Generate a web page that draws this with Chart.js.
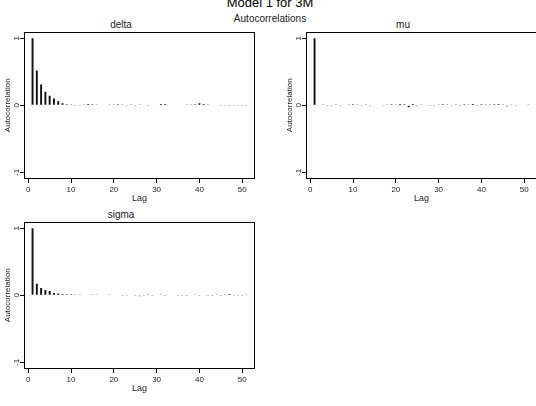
<!DOCTYPE html>
<html>
<head>
<meta charset="utf-8">
<script src="https://cdn.jsdelivr.net/npm/chart.js@4"></script>
<style>
  html, body { margin: 0; padding: 0; background: #fff; overflow: hidden; width: 536px; height: 406px; }
  body { position: relative; font-family: "Liberation Sans", Arial, sans-serif; color: #222; }
  .lbl { position: absolute; white-space: nowrap; transform: translate(-50%, -50%); line-height: 1; }
  .panel { position: absolute; width: 270px; height: 205px; }
</style>
</head>
<body>
<div class="lbl" style="left:270px; top:1.5px; font-size:13px; color:#000;">Model 1 for 3M</div>
<div class="lbl" style="left:270px; top:19px; font-size:10px;">Autocorrelations</div>
<div class="lbl" style="left:121px; top:25px; font-size:10px;">delta</div>
<div class="lbl" style="left:403px; top:25px; font-size:10px;">mu</div>
<div class="lbl" style="left:121px; top:215px; font-size:10px;">sigma</div>

<canvas id="c-delta" class="panel" width="270" height="205" style="left:0; top:0;"></canvas>
<canvas id="c-mu" class="panel" width="270" height="205" style="left:282px; top:0;"></canvas>
<canvas id="c-sigma" class="panel" width="270" height="205" style="left:0; top:190px;"></canvas>

<script>
// Lags
const lags = [1, 2, 3, 4, 5, 6, 7, 8, 9, 10, 11, 12, 13, 14, 15, 16, 17, 18, 19, 20,
    21, 22, 23, 24, 25, 26, 27, 28, 29, 30, 31, 32, 33, 34, 35, 36, 37, 38, 39, 40,
    41, 42, 43, 44, 45, 46, 47, 48, 49, 50, 51];

// Autocorrelations
const deltaAcf = [1.0, 0.52, 0.31, 0.20, 0.14, 0.10, 0.06, 0.03, 0.015, 0.005,
    -0.005, -0.01, 0.01, 0.02, 0.015, 0.01, 0.0, 0.0, 0.01, 0.01,
    0.015, 0.01, -0.005, 0.01, -0.01, 0.005, 0.0, -0.01, 0.0, 0.0,
    0.02, 0.02, 0.0, 0.0, 0.0, 0.0, 0.005, 0.01, 0.015, 0.03,
    0.02, 0.01, 0.0, 0.0, -0.01, -0.01, -0.01, -0.01, -0.01, -0.005, -0.01];

const muAcf = [1.0, 0.0, 0.01, -0.01, -0.01, 0.005, -0.01, 0.0, 0.01, 0.015,
    0.01, -0.005, 0.005, -0.005, 0.0, 0.0, -0.01, 0.01, 0.015, 0.01,
    0.02, 0.015, -0.03, 0.02, -0.01, 0.01, 0.0, -0.01, -0.01, 0.01,
    0.015, 0.01, -0.005, 0.01, -0.01, 0.015, 0.01, 0.02, -0.01, 0.015,
    0.01, 0.01, 0.015, 0.02, 0.01, -0.015, 0.005, -0.005, 0.0, 0.0, 0.01];

const sigmaAcf = [1.0, 0.17, 0.11, 0.08, 0.065, 0.035, 0.025, 0.02, 0.015, 0.015,
    0.01, 0.01, 0.0, 0.0, 0.005, 0.005, 0.0, 0.0, 0.01, 0.0,
    0.0, -0.005, -0.01, 0.0, -0.005, -0.015, -0.005, 0.005, -0.01, 0.0,
    0.01, -0.005, 0.0, 0.0, -0.01, -0.01, -0.01, 0.0, 0.005, -0.005,
    0.0, -0.005, -0.005, 0.005, -0.005, 0.01, 0.02, -0.01, -0.01, -0.005, 0.01];

// Axis ticks
const xTicks = [0, 10, 20, 30, 40, 50];
const yTicks = [-1, 0, 1];

const fam = '"Liberation Sans", Arial, sans-serif';

// box around plot + rotated y tick labels (R style)
const frame = {
    id: 'frame',
    afterDraw(chart) {
        const { ctx, chartArea: a } = chart;
        const ys = chart.scales.y;
        ctx.save();
        ctx.strokeStyle = '#000';
        ctx.lineWidth = 1;
        const l = Math.round(a.left) + 0.5, t = Math.round(a.top) + 0.5;
        const r = Math.round(a.right) - 0.5, b = Math.round(a.bottom) - 0.5;
        ctx.strokeRect(l, t, r - l, b - t);

        ctx.fillStyle = '#222';
        ctx.font = '8px ' + fam;
        ctx.textAlign = 'center';
        ctx.textBaseline = 'middle';
        yTicks.forEach(v => {
            ctx.save();
            ctx.translate(a.left - 7, ys.getPixelForValue(v));
            ctx.rotate(-Math.PI / 2);
            ctx.fillText(String(v), 0, 0);
            ctx.restore();
        });
        ctx.restore();
    }
};

function makePanel(id, values) {
    return new Chart(document.getElementById(id), {
        type: 'bar',
        data: {
            datasets: [{
                data: lags.map((x, i) => ({ x: x, y: values[i] })),
                backgroundColor: '#111',
                borderWidth: 0,
                categoryPercentage: 1,
                barPercentage: 0.45
            }]
        },
        options: {
            responsive: false,
            animation: false,
            devicePixelRatio: 1,
            layout: { padding: { top: 31.5, right: 15, left: 0, bottom: 0 } },
            plugins: {
                legend: { display: false },
                tooltip: { enabled: false }
            },
            scales: {
                x: {
                    type: 'linear',
                    min: -1,
                    max: 53,
                    offset: false,
                    afterBuildTicks: s => { s.ticks = xTicks.map(v => ({ value: v })); },
                    afterFit: s => { s.height = 26; },
                    border: { display: false },
                    grid: { drawOnChartArea: false, drawTicks: true, tickLength: 4, color: '#000', offset: false },
                    ticks: { font: { size: 8, family: fam }, color: '#222', padding: 2, maxRotation: 0, autoSkip: false },
                    title: { display: true, text: 'Lag', font: { size: 9, family: fam }, color: '#222', padding: { top: 0, bottom: 1.3 } }
                },
                y: {
                    min: -1.1,
                    max: 1.1,
                    afterBuildTicks: s => { s.ticks = yTicks.map(v => ({ value: v })); },
                    afterFit: s => { s.width = 24; },
                    border: { display: false },
                    grid: { drawOnChartArea: false, drawTicks: true, tickLength: 4, color: '#000' },
                    ticks: { callback: () => '', padding: 0 },
                    title: { display: true, text: 'Autocorrelation', font: { size: 8, family: fam }, color: '#222', padding: { top: 3, bottom: 0 } }
                }
            }
        },
        plugins: [frame]
    });
}

makePanel('c-delta', deltaAcf);
makePanel('c-mu', muAcf);
makePanel('c-sigma', sigmaAcf);
</script>
</body>
</html>
